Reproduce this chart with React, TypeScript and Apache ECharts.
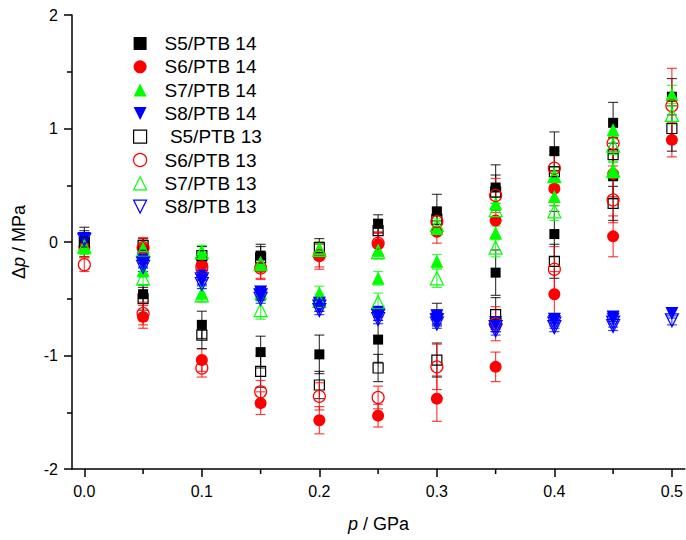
import React, { useEffect, useRef } from "react";
import * as echarts from "echarts";

// [p (GPa), Δp (MPa), error (MPa)]
const s5_14 = [
  [0, 0.0, 0.13],
  [0.05, -0.46, 0.08],
  [0.1, -0.73, 0.12],
  [0.15, -0.12, 0.1], [0.15, -0.97, 0.14],
  [0.2, -0.99, 0.17],
  [0.25, 0.16, 0.08], [0.25, -0.86, 0.2],
  [0.3, 0.27, 0.15], [0.3, -0.64, 0.1],
  [0.35, 0.48, 0.2], [0.35, -0.27, 0.2],
  [0.4, 0.8, 0.17], [0.4, 0.07, 0.2],
  [0.45, 1.05, 0.18], [0.45, 0.58, 0.2],
  [0.5, 1.28, 0.16],
];
const s6_14 = [
  [0, -0.05, 0.08],
  [0.05, -0.06, 0.1], [0.05, -0.66, 0.1],
  [0.1, -0.2, 0.08], [0.1, -1.04, 0.1],
  [0.15, -0.22, 0.1], [0.15, -1.42, 0.1],
  [0.2, -0.12, 0.12], [0.2, -1.57, 0.12],
  [0.25, -0.02, 0.1], [0.25, -1.53, 0.1],
  [0.3, 0.09, 0.1], [0.3, -1.38, 0.2],
  [0.35, 0.19, 0.15], [0.35, -1.1, 0.13],
  [0.4, 0.47, 0.15], [0.4, -0.46, 0.2],
  [0.45, 0.6, 0.2], [0.45, 0.05, 0.18],
  [0.5, 0.9, 0.15],
];
const s7_14 = [
  [0, -0.05, 0.06],
  [0.05, -0.06, 0.06], [0.05, -0.25, 0.06],
  [0.1, -0.1, 0.06], [0.1, -0.45, 0.06],
  [0.15, -0.2, 0.06], [0.15, -0.45, 0.06],
  [0.2, -0.06, 0.06], [0.2, -0.45, 0.06],
  [0.25, -0.07, 0.06], [0.25, -0.32, 0.06],
  [0.3, 0.12, 0.06], [0.3, -0.17, 0.06],
  [0.35, 0.34, 0.06], [0.35, 0.08, 0.06],
  [0.4, 0.58, 0.08], [0.4, 0.4, 0.08],
  [0.45, 0.99, 0.08], [0.45, 0.62, 0.08],
  [0.5, 1.3, 0.08],
];
const s8_14 = [
  [0, 0.03, 0.04],
  [0.05, -0.15, 0.04], [0.05, -0.18, 0.04],
  [0.1, -0.3, 0.04], [0.1, -0.34, 0.04],
  [0.15, -0.44, 0.04], [0.15, -0.47, 0.04],
  [0.2, -0.54, 0.04], [0.2, -0.57, 0.04],
  [0.25, -0.62, 0.04], [0.25, -0.65, 0.04],
  [0.3, -0.65, 0.04], [0.3, -0.68, 0.04],
  [0.35, -0.71, 0.04], [0.35, -0.73, 0.04],
  [0.4, -0.68, 0.04], [0.4, -0.7, 0.04],
  [0.45, -0.66, 0.04], [0.45, -0.68, 0.04],
  [0.5, -0.63, 0.04],
];
const s5_13 = [
  [0, 0.0, 0.1],
  [0.05, -0.03, 0.06], [0.05, -0.5, 0.1],
  [0.1, -0.12, 0.08], [0.1, -0.82, 0.12],
  [0.15, -0.14, 0.1], [0.15, -1.14, 0.14],
  [0.2, -0.05, 0.08], [0.2, -1.26, 0.12],
  [0.25, 0.1, 0.1], [0.25, -1.11, 0.12],
  [0.3, 0.2, 0.1], [0.3, -1.04, 0.15],
  [0.35, 0.44, 0.15], [0.35, -0.64, 0.15],
  [0.4, 0.62, 0.15], [0.4, -0.17, 0.15],
  [0.45, 0.77, 0.15], [0.45, 0.34, 0.15],
  [0.5, 1.0, 0.2],
];
const s6_13 = [
  [0, -0.2, 0.06],
  [0.05, -0.05, 0.08], [0.05, -0.63, 0.1],
  [0.1, -0.22, 0.08], [0.1, -1.11, 0.08],
  [0.15, -0.23, 0.1], [0.15, -1.32, 0.1],
  [0.2, -0.12, 0.1], [0.2, -1.36, 0.12],
  [0.25, -0.01, 0.1], [0.25, -1.37, 0.1],
  [0.3, 0.18, 0.1], [0.3, -1.1, 0.2],
  [0.35, 0.41, 0.15], [0.35, -0.72, 0.15],
  [0.4, 0.65, 0.15], [0.4, -0.24, 0.2],
  [0.45, 0.87, 0.2], [0.45, 0.37, 0.2],
  [0.5, 1.2, 0.33],
];
const s7_13 = [
  [0, -0.04, 0.06],
  [0.05, -0.07, 0.06], [0.05, -0.32, 0.06],
  [0.1, -0.09, 0.06], [0.1, -0.47, 0.06],
  [0.15, -0.19, 0.06], [0.15, -0.6, 0.08],
  [0.2, -0.07, 0.06], [0.2, -0.52, 0.06],
  [0.25, -0.09, 0.06], [0.25, -0.53, 0.08],
  [0.3, 0.15, 0.06], [0.3, -0.32, 0.08],
  [0.35, 0.28, 0.06], [0.35, -0.05, 0.08],
  [0.4, 0.58, 0.08], [0.4, 0.27, 0.08],
  [0.45, 0.85, 0.08], [0.45, 0.63, 0.08],
  [0.5, 1.12, 0.08],
];
const s8_13 = [
  [0, 0.02, 0.04],
  [0.05, -0.19, 0.04], [0.05, -0.22, 0.04],
  [0.1, -0.33, 0.04], [0.1, -0.37, 0.04],
  [0.15, -0.47, 0.04], [0.15, -0.5, 0.04],
  [0.2, -0.57, 0.04], [0.2, -0.6, 0.04],
  [0.25, -0.65, 0.04], [0.25, -0.68, 0.04],
  [0.3, -0.69, 0.04], [0.3, -0.72, 0.04],
  [0.35, -0.75, 0.04], [0.35, -0.78, 0.04],
  [0.4, -0.72, 0.04], [0.4, -0.75, 0.04],
  [0.45, -0.71, 0.04], [0.45, -0.74, 0.04],
  [0.5, -0.69, 0.04],
];

const seriesNames = [
  "S5/PTB 14", "S6/PTB 14", "S7/PTB 14", "S8/PTB 14",
  " S5/PTB 13", "S6/PTB 13", "S7/PTB 13", "S8/PTB 13",
];
const seriesData = [s5_14, s6_14, s7_14, s8_14, s5_13, s6_13, s7_13, s8_13];

const xMajorTicks = [0, 0.1, 0.2, 0.3, 0.4, 0.5];
const xMinorTicks = [0.05, 0.15, 0.25, 0.35, 0.45];
const Y_MIN = -2;
const Y_MAX = 2;

const FONT = "'Liberation Sans', Arial, sans-serif";
const DOWN_TRI = "path://M0,0 L10,0 L5,10 Z";

const styles = [
  { symbol: "rect", size: 10, rotate: 0, color: "#000000", filled: true, icon: "rect" },
  { symbol: "circle", size: 12, rotate: 0, color: "#ff0000", filled: true, icon: "circle" },
  { symbol: "triangle", size: 13, rotate: 0, color: "#00ff00", filled: true, icon: "triangle" },
  { symbol: "triangle", size: 13, rotate: 180, color: "#0000ff", filled: true, icon: DOWN_TRI },
  { symbol: "rect", size: 10, rotate: 0, color: "#000000", filled: false, icon: "rect" },
  { symbol: "circle", size: 12, rotate: 0, color: "#ff0000", filled: false, icon: "circle" },
  { symbol: "triangle", size: 13, rotate: 0, color: "#00ff00", filled: false, icon: "triangle" },
  { symbol: "triangle", size: 13, rotate: 180, color: "#0000ff", filled: false, icon: DOWN_TRI },
];

export default function App() {
  const ref = useRef<HTMLDivElement>(null);
  useEffect(() => {
    if (!ref.current) return;
    const chart = echarts.init(ref.current, null, { renderer: "svg" });
    const series: any[] = [];
    seriesData.forEach((d, i) => {
      const st = styles[i];
      series.push({
        type: "custom",
        name: "err" + i,
        data: d.map((r) => [r[0], r[1] - r[2], r[1] + r[2]]),
        encode: { x: 0, y: [1, 2] },
        renderItem: (params: any, api: any) => {
          const x = api.value(0);
          const lo = api.coord([x, api.value(1)]);
          const hi = api.coord([x, api.value(2)]);
          const hw = 5;
          const s = { stroke: st.color, lineWidth: 1.2, opacity: 0.75 };
          return {
            type: "group",
            children: [
              { type: "line", shape: { x1: lo[0], y1: lo[1], x2: hi[0], y2: hi[1] }, style: s },
              { type: "line", shape: { x1: lo[0] - hw, y1: lo[1], x2: lo[0] + hw, y2: lo[1] }, style: s },
              { type: "line", shape: { x1: hi[0] - hw, y1: hi[1], x2: hi[0] + hw, y2: hi[1] }, style: s },
            ],
          };
        },
        z: 2,
      });
      series.push({
        type: "scatter",
        name: seriesNames[i],
        data: d.map((r) => [r[0], r[1]]),
        symbol: st.symbol,
        symbolSize: st.size,
        symbolRotate: st.rotate,
        itemStyle: st.filled
          ? { color: st.color, borderColor: st.color, borderWidth: 0, opacity: 1 }
          : { color: "rgba(255,255,255,0)", borderColor: st.color, borderWidth: 1.2, opacity: 1 },
        z: 3,
      });
    });
    // minor ticks of the p axis
    series.push({
      type: "custom",
      name: "xminor",
      data: xMinorTicks.map((v) => [v, Y_MIN]),
      encode: { x: 0, y: 1 },
      clip: false,
      silent: true,
      renderItem: (params: any, api: any) => {
        const p = api.coord([api.value(0), api.value(1)]);
        return {
          type: "line",
          shape: { x1: p[0], y1: p[1], x2: p[0], y2: p[1] + 5 },
          style: { stroke: "#000", lineWidth: 1.5 },
        };
      },
      z: 1,
    });

    const option: any = {
      animation: false,
      backgroundColor: "#ffffff",
      textStyle: { fontFamily: FONT },
      grid: { left: 72, right: 0, top: 15, bottom: 71, containLabel: false },
      legend: {
        data: seriesNames.map((n, i) => {
          const st = styles[i];
          return {
            name: n,
            icon: st.icon,
            itemStyle: st.filled
              ? { color: st.color, borderColor: st.color, borderWidth: 0 }
              : { color: "rgba(255,255,255,0)", borderColor: st.color, borderWidth: 1.2 },
          };
        }),
        orient: "vertical",
        left: 128,
        top: 27,
        itemWidth: 13,
        itemHeight: 13,
        itemGap: 0.3,
        symbolKeepAspect: true,
        textStyle: { fontSize: 19, color: "#000", fontFamily: FONT, lineHeight: 23, padding: [0, 0, 0, 13] },
        selectedMode: false,
      },
      xAxis: {
        type: "value",
        min: -0.0105,
        max: 0.511,
        splitNumber: 5,
        name: "{i|p} / GPa",
        nameLocation: "middle",
        nameGap: 46,
        nameTextStyle: {
          fontSize: 18, color: "#000", fontFamily: FONT,
          rich: { i: { fontStyle: "italic", fontSize: 18, fontFamily: FONT, color: "#000" } },
        },
        axisLine: { show: true, onZero: false, lineStyle: { color: "#000", width: 1.5 } },
        axisTick: { show: true, customValues: xMajorTicks, length: 8, lineStyle: { color: "#000", width: 1.5 } },
        axisLabel: {
          show: true, customValues: xMajorTicks, margin: 14, fontSize: 16, color: "#000", fontFamily: FONT,
          formatter: (v: number) => v.toFixed(1),
        },
        splitLine: { show: false },
        minorTick: { show: false },
      },
      yAxis: {
        type: "value",
        min: Y_MIN,
        max: Y_MAX,
        interval: 1,
        name: "Δ{i|p} / MPa",
        nameLocation: "middle",
        nameGap: 44,
        nameTextStyle: {
          fontSize: 18, color: "#000", fontFamily: FONT,
          rich: { i: { fontStyle: "italic", fontSize: 18, fontFamily: FONT, color: "#000" } },
        },
        axisLine: { show: true, onZero: false, lineStyle: { color: "#000", width: 1.5 } },
        axisTick: { show: true, length: 8, lineStyle: { color: "#000", width: 1.5 } },
        minorTick: { show: true, splitNumber: 2, length: 5, lineStyle: { color: "#000", width: 1.5 } },
        axisLabel: { margin: 14, fontSize: 16, color: "#000", fontFamily: FONT },
        splitLine: { show: false },
      },
      series,
    };
    chart.setOption(option);
    return () => chart.dispose();
  }, []);
  return (
    <div
      ref={ref}
      style={{ position: "fixed", left: 0, top: 0, width: 686, height: 540, background: "#fff" }}
    />
  );
}
